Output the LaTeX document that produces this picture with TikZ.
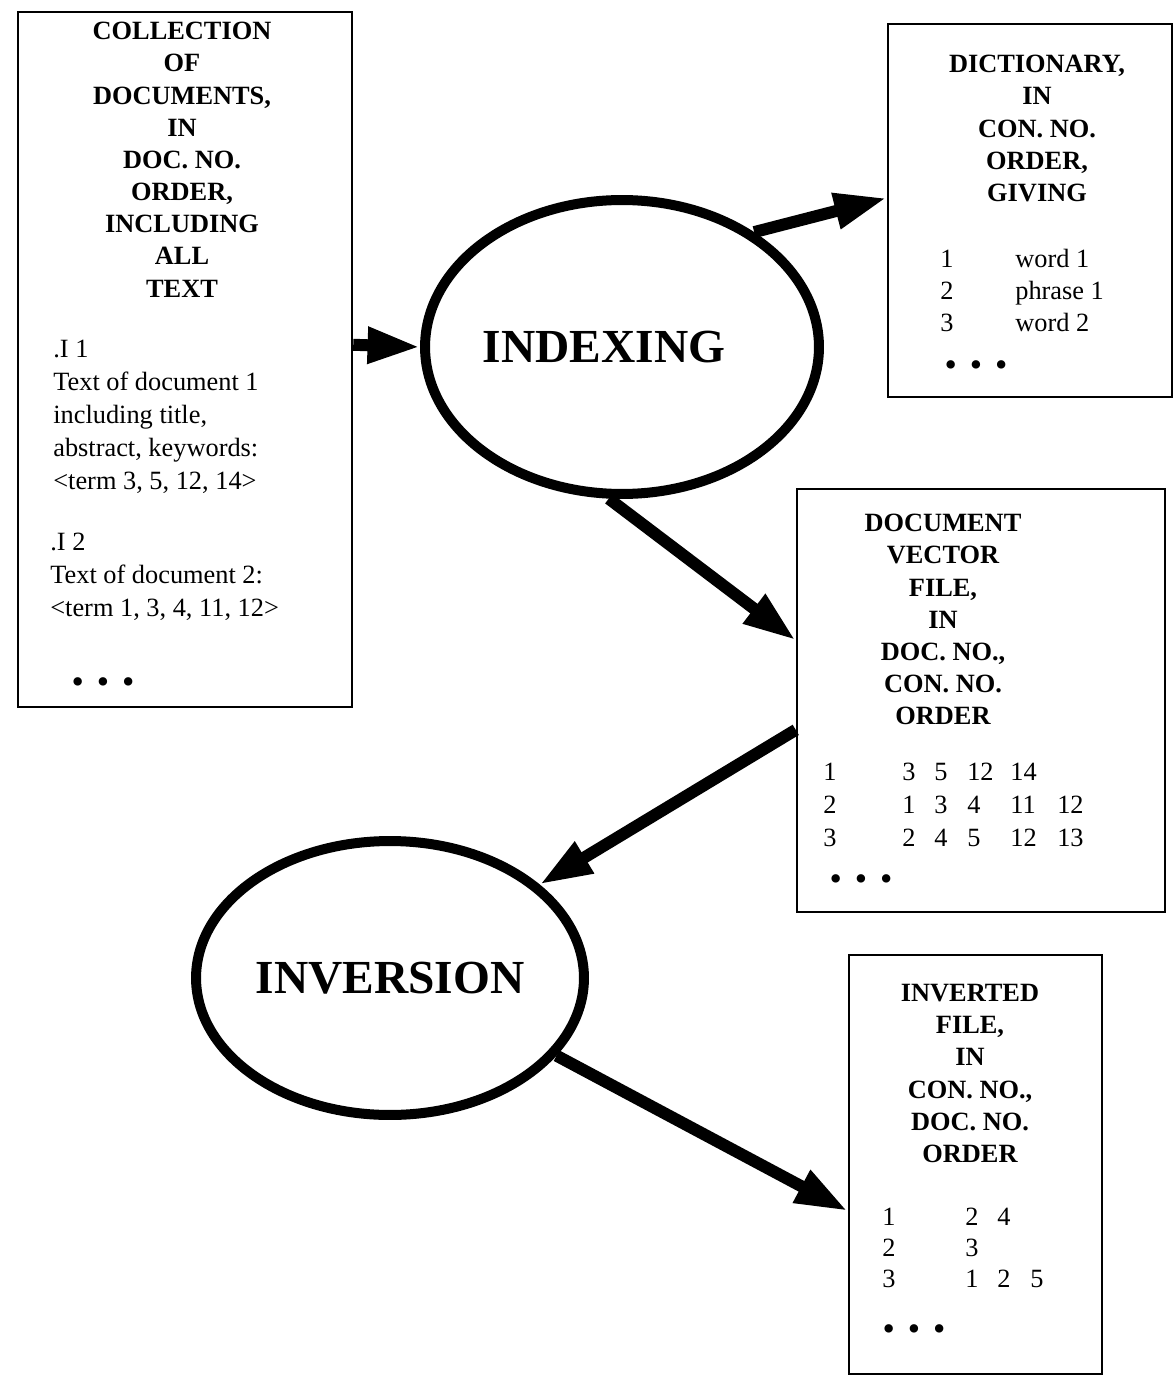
\documentclass[tikz,border=0pt]{standalone}
\usepackage{fontspec}
\setmainfont{Liberation Serif}
\usetikzlibrary{arrows.meta,positioning,fit,shapes.geometric}

\newcommand{\hdrsize}{\fontsize{15}{18.3}\selectfont}
\newcommand{\procfont}{\fontsize{27}{30}\selectfont\bfseries}
\newcommand{\threedots}{\textbullet\hspace{0.26cm}\textbullet\hspace{0.26cm}\textbullet}

\begin{document}
\begin{tikzpicture}[x=0.02cm, y=-0.02cm,
  filebox/.style={draw, line width=0.05cm, inner sep=0pt},
  procoval/.style={ellipse, draw, line width=0.2cm, inner sep=0pt, font=\procfont},
  hdr/.style={align=center, anchor=north, inner sep=0pt, font=\hdrsize\bfseries},
  txt/.style={align=left, anchor=north west, inner sep=0pt, font=\fontsize{15}{18.7}\selectfont},
  tbl/.style={anchor=base west, inner sep=0pt, font=\fontsize{15}{#1}\selectfont},
  dots/.style={inner sep=0pt, font=\fontsize{20}{20}\selectfont},
  arr/.style={-{Triangle[length=1.05cm, width=0.68cm]}, line width=0.24cm}]
\useasboundingbox (0,0) rectangle (1175,1378);

% the four files
\node[filebox, fit={(18,12) (352,707)}] (docs) {};
\node[filebox, fit={(888,24) (1172,397)}] (dict) {};
\node[filebox, fit={(797,489) (1165,912)}] (docvec) {};
\node[filebox, fit={(849,955) (1102,1374)}] (inverted) {};

% the two processes
\node[procoval, minimum width=7.88cm, minimum height=5.88cm,
  label={[font=\procfont, xshift=-0.36cm]center:INDEXING}] (indexing) at (622,347) {};
\node[procoval, minimum width=7.76cm, minimum height=5.48cm] (inversion) at (390,978) {INVERSION};

% collection of documents
\node[hdr] (docshdr) at (182,22) {COLLECTION\\OF\\DOCUMENTS,\\IN\\DOC. NO.\\ORDER,\\INCLUDING\\ALL\\TEXT};
\node[txt] (doc1) at (53,340) {.I 1\\Text of document 1\\including title,\\abstract, keywords:\\<term 3, 5, 12, 14>};
\node[txt] (doc2) at (50,533) {.I 2\\Text of document 2:\\<term 1, 3, 4, 11, 12>};
\node[dots] (docsdots) at (103,686) {\threedots};

% dictionary
\node[hdr] (dicthdr) at (1037,55) {DICTIONARY,\\IN\\CON. NO.\\ORDER,\\GIVING};
\node[tbl=18.2] (dictlist) at (940,268) {\begin{tabular}[t]{@{}p{1.5cm}@{}l@{}}
1 & word 1\\ 2 & phrase 1\\ 3 & word 2\end{tabular}};
\node[dots] (dictdots) at (976,369) {\threedots};

% document vectors
\node[hdr] (vechdr) at (943,514) {DOCUMENT\\VECTOR\\FILE,\\IN\\DOC. NO.,\\CON. NO.\\ORDER};
\node[tbl=19] (veclist) at (823,780) {\begin{tabular}[t]{@{}p{1.58cm}@{}p{0.64cm}@{}p{0.66cm}@{}p{0.86cm}@{}p{0.94cm}@{}l@{}}
1 & 3 & 5 & 12 & 14 &\\ 2 & 1 & 3 & 4 & 11 & 12\\ 3 & 2 & 4 & 5 & 12 & 13\end{tabular}};
\node[dots] (vecdots) at (861,883) {\threedots};

% inverted file
\node[hdr] (invhdr) at (970,984) {INVERTED\\FILE,\\IN\\CON. NO.,\\DOC. NO.\\ORDER};
\node[tbl=17.9] (invlist) at (882,1225) {\begin{tabular}[t]{@{}p{1.66cm}@{}p{0.64cm}@{}p{0.66cm}@{}l@{}}
1 & 2 & 4 &\\ 2 & 3 & &\\ 3 & 1 & 2 & 5\end{tabular}};
\node[dots] (invdots) at (914,1333) {\threedots};

\draw[arr] (docs.5) -- (indexing.west);
\draw[arr] (indexing.41) -- (dict.175);
\draw[arr] (indexing.265) -- (docvec.162);
\draw[arr] (docvec.189) -- (inversion.32);
\draw[arr] (inversion.335) -- (inverted.200);
\end{tikzpicture}
\end{document}
